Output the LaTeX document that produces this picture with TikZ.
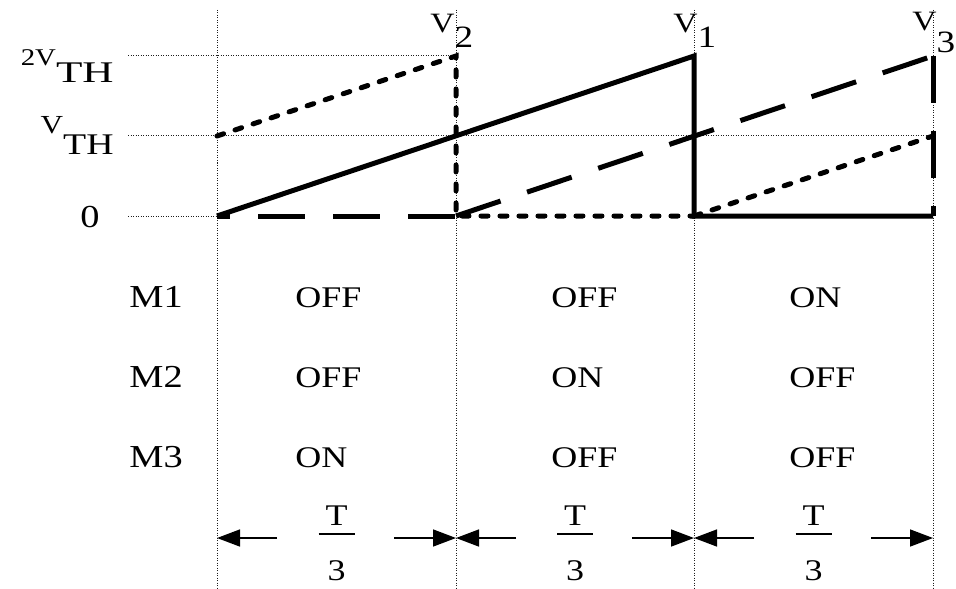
\documentclass[tikz,border=0pt]{standalone}
\usepackage{fontspec}
\setmainfont{Liberation Serif}[FakeStretch=1.2]
\usetikzlibrary{arrows.meta,positioning,calc}
\definecolor{waveInk}{RGB}{0,0,0}
\definecolor{gridInk}{RGB}{30,30,30}
\newcommand{\wideTH}[1]{\scalebox{#1}[1]{TH}}
\tikzset{
  gridline/.style={draw=gridInk, line width=0.5pt, dash pattern=on 0.5pt off 0.75pt},
  wave/.style={draw=waveInk, line width=2.5pt},
  wavedash/.style={wave, dash pattern=on 23.5pt off 14pt},
  wavedot/.style={wave, line cap=round, dash pattern=on 3.5pt off 6pt},
  dimarrow/.style={draw=waveInk, line width=0.75pt, -{Triangle[length=11.5pt,width=8.5pt]}},
  levlab/.style={anchor=base east, inner sep=0pt, text=waveInk},
  vlab/.style={anchor=base west, inner sep=0pt, font=\fontsize{14}{16}\selectfont},
  statelab/.style={anchor=base west, inner sep=0pt, font=\fontsize{15}{16}\selectfont},
  fraclab/.style={inner sep=0pt, font=\fontsize{15}{16}\selectfont},
}

\begin{document}
\begin{tikzpicture}[x=0.5pt,y=-0.5pt]
\useasboundingbox (0,0) rectangle (956,588);
% time marks and levels
\coordinate (t0) at (217,216);
\coordinate (t1) at (456,216);
\coordinate (t2) at (694,216);
\coordinate (t3) at (933,216);
\coordinate (lv1) at (128,136);
\coordinate (lv2) at (128,56);
\coordinate (top) at (0,10);
\coordinate (bot) at (0,588);

% dotted grid
\foreach \t in {t0,t1,t2,t3}
  \draw[gridline] (\t |- top) -- (\t |- bot);
\draw[gridline] (128,216) -- (t0);
\draw[gridline] (lv1) -- (t3 |- lv1);
\draw[gridline] (lv2) -- (t1 |- lv2);

% V1
\draw[wave] (t0) -- (t2 |- lv2) -- (t2) -- (t3);
% V2
\draw[wavedot] (t0 |- lv1) -- (t1 |- lv2) -- (t1) -- (t2);
\draw[wavedot] (t2) -- (t3 |- lv1);
% V3
\draw[wavedash, dash phase=17pt] (t0) -- (t1);
\draw[wavedash] (t1) -- (t3 |- lv2);
\draw[wavedash] (t3 |- lv2) -- (t3);

% level labels
\node[levlab] (lab2vth) at (114,66) {\fontsize{12}{13}\selectfont 2V\raisebox{-8.5pt}{\fontsize{15}{16}\selectfont\wideTH{1.2}}};
\node[levlab] (labvth) at (114,134) {\fontsize{13}{14}\selectfont V\raisebox{-10pt}{\fontsize{15}{16}\selectfont\wideTH{1.05}}};
\node[levlab, font=\fontsize{16}{17}\selectfont] (labzero) at (100,227) {0};

% peak labels
\node[vlab] (v2) at (430,33) {V\raisebox{-7.5pt}{\fontsize{15.5}{17}\selectfont 2}};
\node[vlab] (v1) at (673,33) {V\raisebox{-7.5pt}{\fontsize{15.5}{17}\selectfont 1}};
\node[vlab] (v3) at (912,31) {V\raisebox{-11pt}{\fontsize{15.5}{17}\selectfont 3}};

% switch states
\foreach \r/\a/\b/\c in {1/OFF/OFF/ON, 2/OFF/ON/OFF, 3/ON/OFF/OFF} {
  \node[statelab, font=\fontsize{16}{17}\selectfont] (m\r) at (129,227+80*\r) {M\r};
  \node[statelab] (sa\r) at (295,227+80*\r) {\a};
  \node[statelab] (sb\r) at (551,227+80*\r) {\b};
  \node[statelab] (sc\r) at (789,227+80*\r) {\c};
}

% T/3 intervals
\foreach \i/\j in {t0/t1, t1/t2, t2/t3} {
  \node[fraclab] (tn\i) at ($(\i)!0.5!(\j)+(0,300)$) {T};
  \node[fraclab] (td\i) at ($(\i)!0.5!(\j)+(0,355)$) {3};
  \draw[line width=1pt] ($(\i)!0.5!(\j)+(-18,318)$) -- ($(\i)!0.5!(\j)+(18,318)$);
  \draw[dimarrow] ($(\i)+(60,322)$) -- ($(\i)+(0,322)$);
  \draw[dimarrow] ($(\j)+(-62,322)$) -- ($(\j)+(0,322)$);
}
\end{tikzpicture}
\end{document}
